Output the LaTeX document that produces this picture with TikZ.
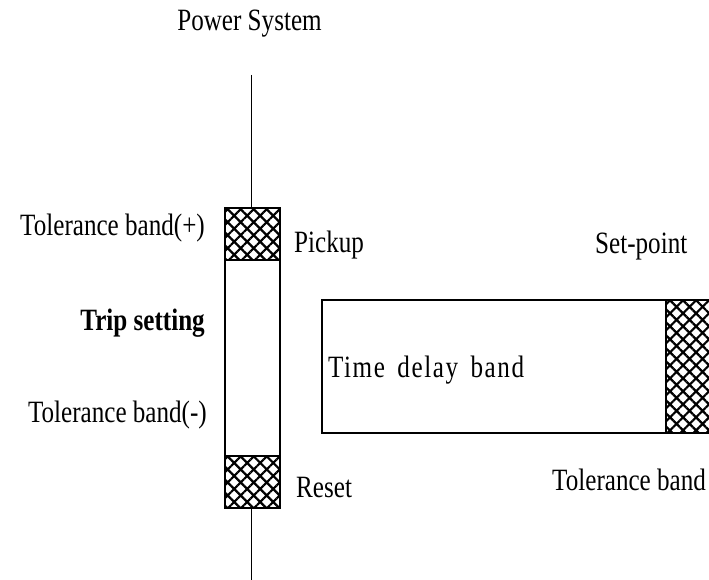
\documentclass[tikz,border=0pt]{standalone}
\usepackage{fontspec}
\setmainfont{Liberation Serif}[FakeStretch=0.81]
\newfontfamily\spacedfont{Liberation Serif}[FakeStretch=0.81,LetterSpace=5,WordSpace=1.6]
\usetikzlibrary{patterns.meta}
\newcommand{\lblsize}{\fontsize{31}{36}\selectfont}

\begin{document}
\begin{tikzpicture}[x=1pt,y=-1pt,
  lbl/.style={inner sep=0pt,font=\lblsize},
  frame/.style={draw,line width=1.4pt,inner sep=0pt,fill=white},
  hatched/.style={draw,line width=2.6pt,inner sep=0pt,fill=white,
    postaction={pattern={Hatch[angle=45,distance=9.2pt,line width=2.2pt]}}},
  wire/.style={line width=1.5pt}]
\useasboundingbox (0,0) rectangle (709,580);
\clip (0,0) rectangle (709,580);

% relay band: outer frame with pickup and reset tolerance blocks
\node[frame,minimum width=55pt,minimum height=300pt] (relay) at (252.5,358) {};
\node[hatched,minimum width=55pt,minimum height=52pt] (pickup) at (252.5,234) {};
\node[hatched,minimum width=55pt,minimum height=52pt] (reset) at (252.5,482) {};

% power system line through the band
\coordinate (top) at (251.5,75);
\coordinate (bottom) at (251.5,582);
\draw[wire] (top) -- (top |- pickup.north);
\draw[wire] (bottom |- reset.south) -- (bottom);

% time delay band with the set-point tolerance block
\node[frame,minimum width=392pt,minimum height=133pt] (delay) at (518,366.5) {};
\node[hatched,minimum width=48pt,minimum height=133pt] (setpt) at (690,366.5) {};

% labels
\node[lbl,anchor=base] (title) at (249.5,30.5) {Power System};
\node[lbl,anchor=base east] (tolp) at (205,235) {Tolerance band(+)};
\node[lbl,anchor=base east,font=\lblsize\bfseries] (trip) at (205,330) {Trip setting};
\node[lbl,anchor=base east] (tolm) at (207,422) {Tolerance band(-)};
\node[lbl,anchor=base west] (pk) at (294,252) {Pickup};
\node[lbl,anchor=base west] (rs) at (296,497) {Reset};
\node[lbl,anchor=base west] (sp) at (595,253) {Set-point};
\node[lbl,anchor=base west] (tdb) at (328,377) {\spacedfont Time delay band};
\node[lbl,anchor=base west] (tb) at (552,490) {Tolerance band};
\end{tikzpicture}
\end{document}
